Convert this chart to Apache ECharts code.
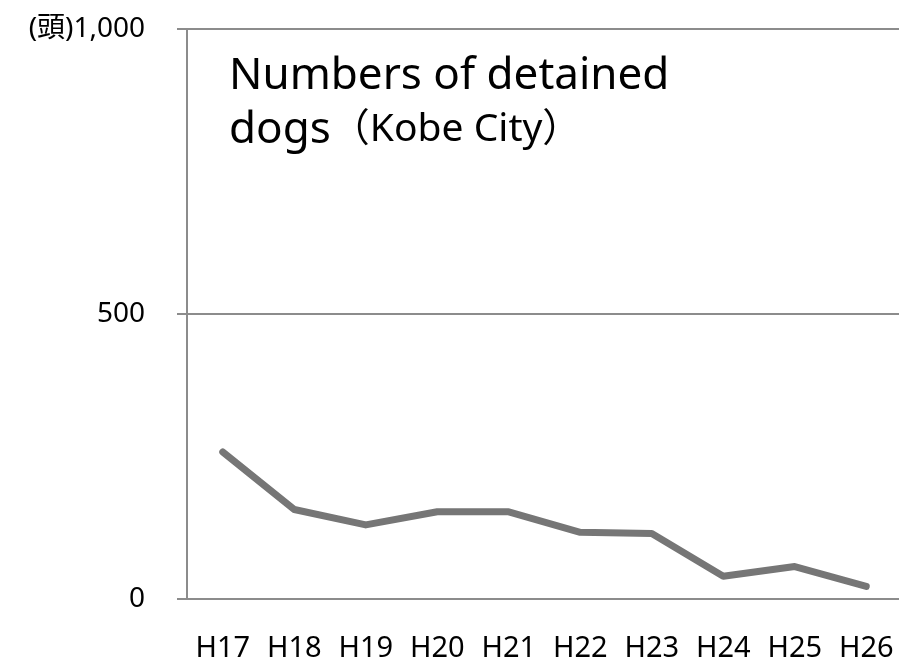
<!DOCTYPE html>
<html>
<head>
<meta charset="utf-8">
<script src="https://cdn.jsdelivr.net/npm/echarts@6/dist/echarts.min.js"></script>
<style>
  html, body { margin: 0; padding: 0; background: #fff; }
  #chart { width: 899px; height: 659px; }
</style>
</head>
<body>
<div id="chart"></div>
<script>
// 年度（平成）
const years = ['H17', 'H18', 'H19', 'H20', 'H21', 'H22', 'H23', 'H24', 'H25', 'H26'];
// 収容頭数
const dogs = [258, 157, 130, 153, 153, 117, 115, 40, 57, 22];
const yTicks = [0, 500, 1000];

const font = '"Noto Sans", "Noto Sans CJK JP", sans-serif';
const chart = echarts.init(document.getElementById('chart'));

chart.setOption({
    animation: false,
    title: {
        text: '{a|Numbers of detained}\n{a|dogs}{b|（Kobe City）}',
        left: 224,
        top: 44,
        textStyle: {
            rich: {
                a: { fontSize: 44, fontFamily: font, fontWeight: 'normal', color: '#000', lineHeight: 54 },
                b: { fontSize: 39, fontFamily: font, fontWeight: 'normal', color: '#000', lineHeight: 54 }
            }
        }
    },
    grid: { left: 187, right: -3, top: 29, bottom: 60, containLabel: false, outerBoundsMode: 'none' },
    xAxis: {
        type: 'category',
        data: years,
        boundaryGap: true,
        axisLine: { lineStyle: { color: '#8c8c8c', width: 2 } },
        axisTick: { alignWithLabel: true, inside: true, length: 7, lineStyle: { color: '#8c8c8c', width: 2 } },
        axisLabel: { fontSize: 29, fontFamily: font, color: '#000', margin: 35 }
    },
    yAxis: {
        type: 'value',
        min: 0,
        max: 1000,
        interval: 500,
        axisLine: { show: true, lineStyle: { color: '#8c8c8c', width: 2 } },
        axisTick: { show: true, length: 10, lineStyle: { color: '#8c8c8c', width: 2 } },
        splitLine: { lineStyle: { color: '#8c8c8c', width: 2 } },
        axisLabel: {
            fontSize: 28, fontFamily: font, color: '#000', margin: 42,
            formatter: v => yTicks.includes(v) ? (v === 1000 ? '(頭)1,000' : String(v)) : ''
        }
    },
    series: [{
        type: 'line',
        data: dogs,
        symbol: 'none',
        lineStyle: { color: '#767676', width: 7, cap: 'round', join: 'round' }
    }]
});
</script>
</body>
</html>
